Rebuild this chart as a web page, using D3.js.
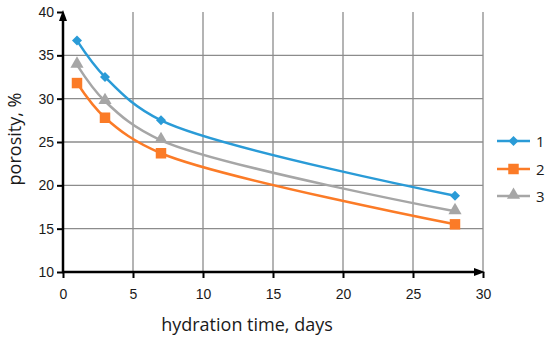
<!DOCTYPE html>
<html lang="en">
<head>
<meta charset="UTF-8">
<title>Porosity vs hydration time</title>
<script src="https://d3js.org/d3.v7.min.js"></script>
<style>
  body { margin: 0; background: #fff; }
  svg { display: block; font-family: "Open Sans", "Noto Sans", sans-serif; }
  .grid line { stroke: #8c8c8c; stroke-width: 1.3; }
  .tick text { fill: #1a1a1a; font-size: 14px; }
</style>
</head>
<body>
<svg id="chart" width="550" height="343"></svg>
<script>
// data
const days = [1, 3, 7, 28];
const series1 = [36.7, 32.5, 27.5, 18.8];
const series2 = [31.8, 27.8, 23.7, 15.5];
const series3 = [33.9, 29.7, 25.2, 17.0];
const seriesNames = ["1", "2", "3"];
const xTicks = [0, 5, 10, 15, 20, 25, 30];
const yTicks = [10, 15, 20, 25, 30, 35, 40];

const svg = d3.select("#chart");
const m = { left: 63, right: 483, top: 12, bottom: 272 };

const x = d3.scaleLinear().domain([0, 30]).range([m.left, m.right]);
const y = d3.scaleLinear().domain([10, 40]).range([m.bottom, m.top]);

// grid
const grid = svg.append("g").attr("class", "grid");
grid.selectAll(".v").data(xTicks.slice(1)).enter().append("line")
    .attr("x1", d => x(d)).attr("x2", d => x(d))
    .attr("y1", m.top).attr("y2", m.bottom);
grid.selectAll(".h").data(yTicks.slice(1, -1)).enter().append("line")
    .attr("x1", m.left).attr("x2", m.right)
    .attr("y1", d => y(d)).attr("y2", d => y(d));

// axes
const xAxis = svg.append("g").attr("transform", `translate(0,${m.bottom})`)
    .call(d3.axisBottom(x).tickValues(xTicks).tickSize(6).tickPadding(11));
const yAxis = svg.append("g").attr("transform", `translate(${m.left},0)`)
    .call(d3.axisLeft(y).tickValues(yTicks).tickSize(6).tickPadding(3));
[xAxis, yAxis].forEach(a => {
  a.select(".domain").remove();
  a.selectAll(".tick line").attr("stroke", "#000").attr("stroke-width", 2);
  a.selectAll(".tick text").attr("fill", "#1a1a1a").attr("font-size", 14);
});

// axis lines with arrowheads
svg.append("line").attr("x1", m.left).attr("x2", m.left)
   .attr("y1", m.bottom + 1).attr("y2", m.top + 6)
   .attr("stroke", "#000").attr("stroke-width", 2.5);
svg.append("path")
   .attr("d", `M${m.left - 4},${m.top + 9} L${m.left},${m.top - 2} L${m.left + 4},${m.top + 9} Z`)
   .attr("fill", "#000");
svg.append("line").attr("x1", m.left - 1).attr("x2", m.right - 6)
   .attr("y1", m.bottom).attr("y2", m.bottom)
   .attr("stroke", "#000").attr("stroke-width", 2.5);
svg.append("path")
   .attr("d", `M${m.right - 9},${m.bottom - 4} L${m.right + 2},${m.bottom} L${m.right - 9},${m.bottom + 4} Z`)
   .attr("fill", "#000");

// axis titles
svg.append("text").attr("x", 247).attr("y", 331)
   .attr("text-anchor", "middle").attr("font-size", 18).attr("fill", "#1a1a1a")
   .text("hydration time, days");
svg.append("text").attr("transform", `translate(21,139) rotate(-90)`)
   .attr("text-anchor", "middle").attr("font-size", 18).attr("fill", "#1a1a1a")
   .text("porosity, %");

// series
const colors = ["#2a9bd7", "#fb7b27", "#a6a6a6"];
const values = [series1, series2, series3];
const line = d3.line().x(d => x(d[0])).y(d => y(d[1]))
    .curve(d3.curveCatmullRom.alpha(0.5));

function marker(g, i, cx, cy) {
  if (i === 0) {
    g.append("path").attr("d", d3.symbol().type(d3.symbolSquare).size(50)())
     .attr("transform", `translate(${cx},${cy}) rotate(45)`).attr("fill", colors[i]);
  } else if (i === 1) {
    g.append("path").attr("d", d3.symbol().type(d3.symbolSquare).size(110)())
     .attr("transform", `translate(${cx},${cy})`).attr("fill", colors[i]);
  } else {
    g.append("path").attr("d", d3.symbol().type(d3.symbolTriangle).size(75)())
     .attr("transform", `translate(${cx},${cy - 1})`).attr("fill", colors[i]);
  }
}

[2, 0, 1].forEach(i => {
  const pts = days.map((d, j) => [d, values[i][j]]);
  const g = svg.append("g");
  g.append("path").attr("d", line(pts)).attr("fill", "none")
   .attr("stroke", colors[i]).attr("stroke-width", 2.5);
  pts.forEach(p => marker(g, i, x(p[0]), y(p[1])));
});

// legend
const legY = [141, 169, 196];
seriesNames.forEach((n, i) => {
  const g = svg.append("g");
  g.append("line").attr("x1", 497).attr("x2", 530)
   .attr("y1", legY[i]).attr("y2", legY[i])
   .attr("stroke", colors[i]).attr("stroke-width", 2.5);
  marker(g, i, 513.5, legY[i]);
  g.append("text").attr("x", 536).attr("y", legY[i] + 6)
   .attr("font-size", 15).attr("fill", "#1a1a1a").text(n);
});
</script>
</body>
</html>
